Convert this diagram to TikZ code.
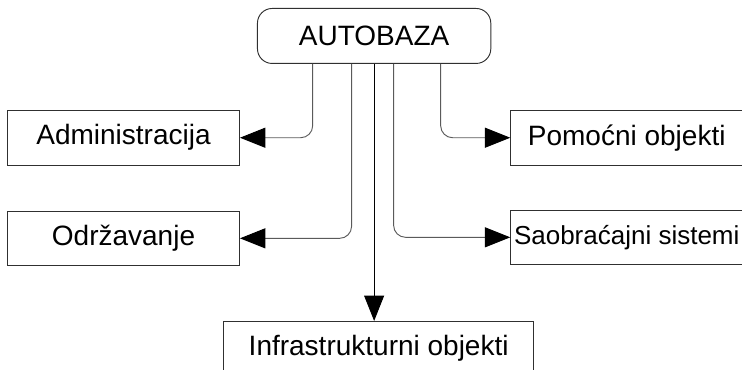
\documentclass[tikz,border=0pt]{standalone}
\usepackage{fontspec}
\setmainfont{Liberation Sans}
\usetikzlibrary{arrows.meta,positioning}
\definecolor{linegray}{HTML}{5A5A5A}
\definecolor{boxgray}{HTML}{303030}
\tikzset{
  orgbox/.style={draw=boxgray, line width=0.7pt, inner sep=2pt, minimum width=174pt, minimum height=41pt, font=\fontsize{21}{25}\selectfont},
  topbox/.style={orgbox, rounded corners=11pt, minimum width=175pt, minimum height=41.25pt},
  orglink/.style={draw=linegray, line width=0.7pt, rounded corners=9pt, -{Triangle[length=19pt,width=15pt,color=black]}}
}

\begin{document}
\begin{tikzpicture}[node distance=34.5pt and 12.75pt]
  \node[topbox] (autobaza) {AUTOBAZA};
  % frame of the picture
  \path[use as bounding box] ([xshift=-192.75pt,yshift=6pt]autobaza.north west) rectangle ++(556.5pt,-277.5pt);
  \clip ([xshift=-192.75pt,yshift=6pt]autobaza.north west) rectangle ++(556.5pt,-277.5pt);
  \node[orgbox, below left=34.5pt and 12.75pt of autobaza.south west, anchor=north east] (admin) {Administracija};
  \node[orgbox, below right=34.5pt and 14.25pt of autobaza.south east, anchor=north west] (pomocni) {Pomoćni objekti};
  \node[orgbox, below=33.75pt of admin] (odrzavanje) {Održavanje};
  \node[orgbox, below=33pt of pomocni, font=\fontsize{19.5}{24}\selectfont] (saobracajni) {Saobraćajni sistemi};
  \node[orgbox, minimum width=232.5pt, below=192.75pt of autobaza, xshift=3.4pt] (infra) {Infrastrukturni objekti};
  \draw[orglink] ([xshift=-46.1pt]autobaza.south) |- (admin.east);
  \draw[orglink] ([xshift=-16.9pt]autobaza.south) |- (odrzavanje.east);
  \draw[orglink] ([xshift=14.6pt]autobaza.south) |- (saobracajni.west);
  \draw[orglink] ([xshift=49.9pt]autobaza.south) |- (pomocni.west);
  \draw[orglink, draw=black] (autobaza.south) -- (autobaza.south |- infra.north);
\end{tikzpicture}
\end{document}
